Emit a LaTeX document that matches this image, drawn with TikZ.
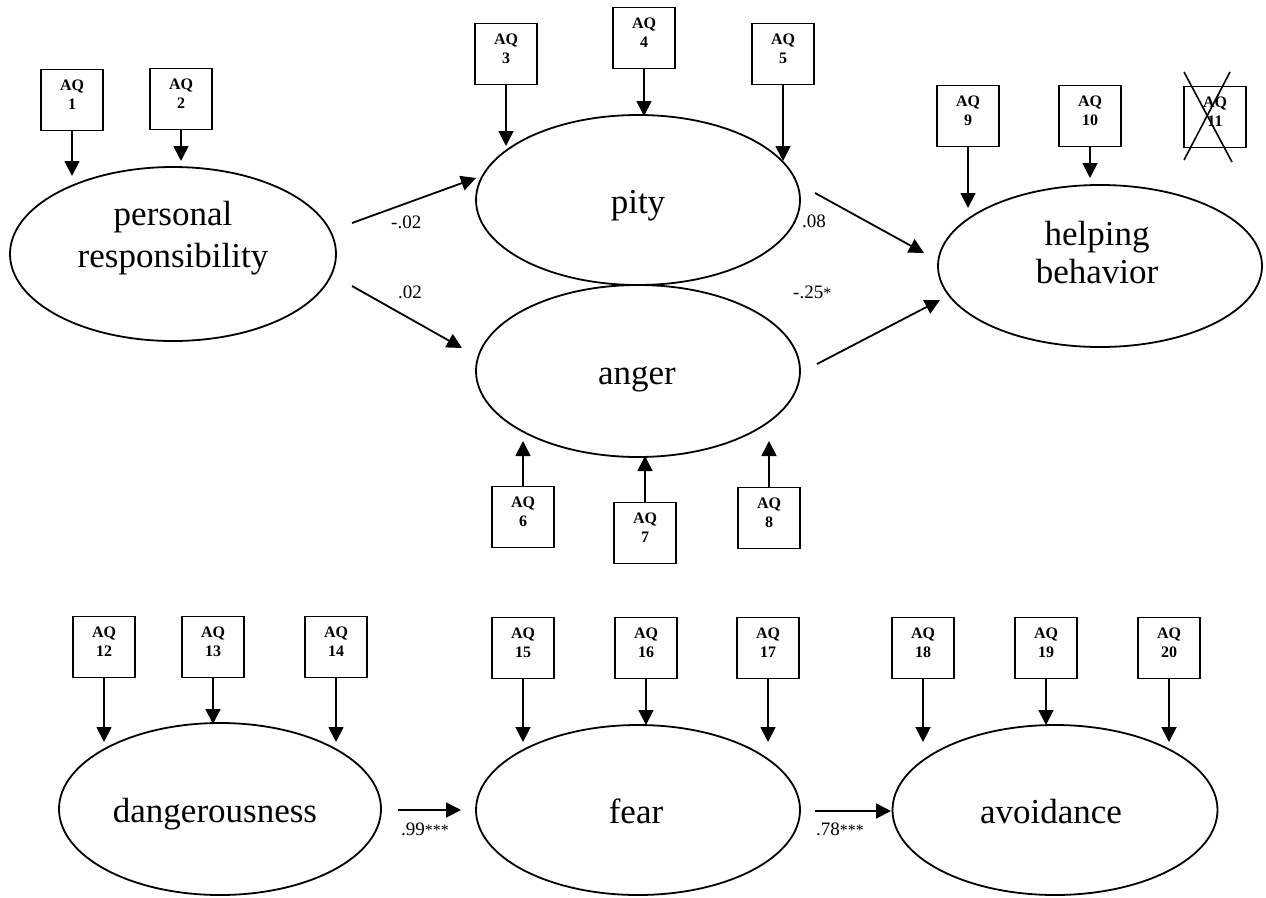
\documentclass[tikz,border=0pt]{standalone}
\usepackage{fontspec}
\setmainfont{Liberation Serif}
\usetikzlibrary{arrows.meta,shapes.geometric}
\tikzset{
  lat/.style={draw, line width=1.8pt, ellipse, inner sep=0pt},
  aqbox/.style={draw, line width=1.8pt, rectangle, minimum width=62pt, minimum height=61pt, inner sep=0pt},
  aqtxt/.style={font=\fontsize{16}{19}\selectfont\bfseries, align=center, inner sep=0pt, anchor=base},
  lbl/.style={font=\fontsize{35}{42}\selectfont, align=center, inner sep=0pt, anchor=base},
  coef/.style={font=\fontsize{19}{23}\selectfont, inner sep=0pt, anchor=base west},
  arr/.style={line width=1.8pt, -{Triangle[length=15pt,width=15pt]}},
}
\newcommand\aqnode[4]{%
  \node[aqbox] (#1) at (#2,#3) {};
  \node[aqtxt] (#1t) at (#2,#3+9) {AQ\\#4};
}
\newcommand\stars[1]{\fontsize{16}{20}\selectfont#1}
\begin{document}
\begin{tikzpicture}[x=1pt,y=-1pt]
\useasboundingbox (0,0) rectangle (1266,897);
% latent variables
\node[lat, minimum width=326pt, minimum height=174pt] (pr) at (173,254) {};
\node[lat, minimum width=324pt, minimum height=170pt] (pity) at (638,200) {};
\node[lat, minimum width=324pt, minimum height=172pt] (anger) at (638,371) {};
\node[lat, minimum width=324pt, minimum height=162pt] (help) at (1100,266) {};
\node[lat, minimum width=322pt, minimum height=172pt] (dang) at (220,809) {};
\node[lat, minimum width=324pt, minimum height=170pt] (fear) at (638,810) {};
\node[lat, minimum width=325pt, minimum height=170pt] (avoid) at (1055,810) {};
% labels
\node[lbl] (prt) at (173,267) {personal\\responsibility};
\node[lbl] (pityt) at (638,213) {pity};
\node[lbl] (angert) at (637,384) {anger};
\node[lbl, font=\fontsize{35}{38}\selectfont] (helpt) at (1097,283) {helping\\behavior};
\node[lbl] (dangt) at (215,822) {dangerousness};
\node[lbl] (feart) at (636,823) {fear};
\node[lbl] (avoidt) at (1051,823) {avoidance};
% indicators
\aqnode{aq1}{72}{100}{1}
\aqnode{aq2}{181}{99}{2}
\aqnode{aq3}{506}{54}{3}
\aqnode{aq4}{644}{38}{4}
\aqnode{aq5}{783}{54}{5}
\aqnode{aq6}{523}{517}{6}
\aqnode{aq7}{645}{533}{7}
\aqnode{aq8}{769}{518}{8}
\aqnode{aq9}{968}{116}{9}
\aqnode{aq10}{1090}{116}{10}
\aqnode{aq11}{1215}{117}{11}
\aqnode{aq12}{104}{647}{12}
\aqnode{aq13}{213}{647}{13}
\aqnode{aq14}{336}{647}{14}
\aqnode{aq15}{523}{648}{15}
\aqnode{aq16}{646}{648}{16}
\aqnode{aq17}{768}{648}{17}
\aqnode{aq18}{923}{648}{18}
\aqnode{aq19}{1046}{648}{19}
\aqnode{aq20}{1169}{648}{20}
% cross over AQ 11
\coordinate (x1a) at (1184,72);
\coordinate (x1b) at (1232,162);
\coordinate (x2a) at (1230,72);
\coordinate (x2b) at (1184,160);
\draw[line width=1.6pt] (x1a) -- (x1b);
\draw[line width=1.6pt] (x2a) -- (x2b);
% indicator arrow tips
\coordinate (t1) at (72,176);
\coordinate (t2) at (181,161);
\coordinate (t3) at (506,146);
\coordinate (t4) at (644,116);
\coordinate (t5) at (783,161);
\coordinate (t6) at (523,441);
\coordinate (t7) at (645,456);
\coordinate (t8) at (769,441);
\coordinate (t9) at (968,208);
\coordinate (t10) at (1090,178);
\coordinate (t12) at (104,742);
\coordinate (t13) at (213,724);
\coordinate (t14) at (336,742);
\coordinate (t15) at (523,742);
\coordinate (t16) at (646,725);
\coordinate (t17) at (768,742);
\coordinate (t18) at (923,742);
\coordinate (t19) at (1046,725);
\coordinate (t20) at (1169,742);
\foreach \i in {1,2,3,4,5,9,10,12,13,14,15,16,17,18,19,20}{
  \draw[arr] (aq\i.south) -- (t\i);
}
\foreach \i in {6,7,8}{
  \draw[arr] (aq\i.north) -- (t\i);
}
% structural paths
\coordinate (s1) at (352,223);
\coordinate (e1) at (476,178);
\coordinate (s2) at (352,286);
\coordinate (e2) at (462,348);
\coordinate (s3) at (815,193);
\coordinate (e3) at (924,253);
\coordinate (s4) at (817,364);
\coordinate (e4) at (940,300);
\coordinate (s5) at (398,810);
\coordinate (e5) at (461,810);
\coordinate (s6) at (815,811);
\coordinate (e6) at (891,811);
\draw[arr] (s1) -- (e1);
\draw[arr] (s2) -- (e2);
\draw[arr] (s3) -- (e3);
\draw[arr] (s4) -- (e4);
\draw[arr] (s5) -- (e5);
\draw[arr] (s6) -- (e6);
% coefficients
\node[coef] (c1) at (391,228) {-.02};
\node[coef] (c2) at (398,298) {.02};
\node[coef] (c3) at (802,227) {.08};
\node[coef] (c4) at (793,298) {-.25\stars{*}};
\node[coef] (c5) at (401,835) {.99\stars{***}};
\node[coef] (c6) at (816,835) {.78\stars{***}};
\end{tikzpicture}
\end{document}
